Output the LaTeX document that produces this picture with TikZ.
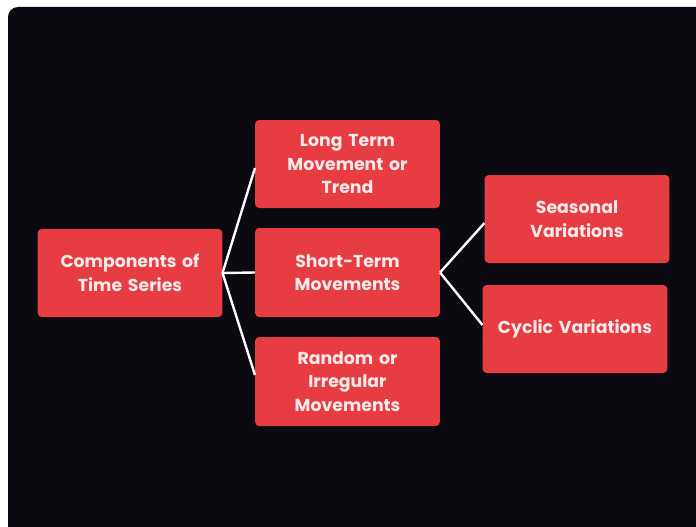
\documentclass[tikz,border=0pt]{standalone}
\usepackage{fontspec}
\setmainfont{Poppins}
\begin{document}
\begin{tikzpicture}[x=1pt,y=-1pt,
  card/.style={rectangle, rounded corners=4pt, fill=cardred, draw=none,
    minimum width=183pt, minimum height=88pt, text width=178pt, align=center,
    text=cardtext, font=\bfseries\fontsize{17.3}{23.5}\selectfont},
  link/.style={draw=white, line width=2.4pt}]
  \definecolor{cardred}{HTML}{E63C42}
  \definecolor{cardtext}{HTML}{F7EAEA}
  \definecolor{panel}{HTML}{0A0A10}
  \useasboundingbox (0,0) rectangle (696,527);
  \fill[white] (0,0) rectangle (696,527);
  \begin{scope}
    \clip (0,0) rectangle (696,527);
    \fill[panel, rounded corners=10pt] (8,7) rectangle (740,560);
  \end{scope}

  \node[card, minimum width=182pt] (comp) at (130,273) {Components of\\Time Series};
  \node[card] (long) at (347.5,164) {Long Term\\Movement or\\Trend};
  \node[card, minimum height=89pt] (short) at (347.5,272.5) {Short-Term\\Movements};
  \node[card, minimum height=89pt] (rand) at (347.5,381.5) {Random or\\Irregular\\Movements};
  \node[card, minimum width=184pt] (seas) at (577,219) {Seasonal\\Variations};
  \node[card, minimum width=184pt] (cyc) at (575,329) {Cyclic Variations};

  \draw[link] (comp.east) -- ([yshift=-4pt]long.west);
  \draw[link] (comp.east) -- (short.west);
  \draw[link] (comp.east) -- ([yshift=6.5pt]rand.west);
  \draw[link] (short.east) -- ([yshift=-4pt]seas.west);
  \draw[link] (short.east) -- ([yshift=4pt]cyc.west);
\end{tikzpicture}
\end{document}
